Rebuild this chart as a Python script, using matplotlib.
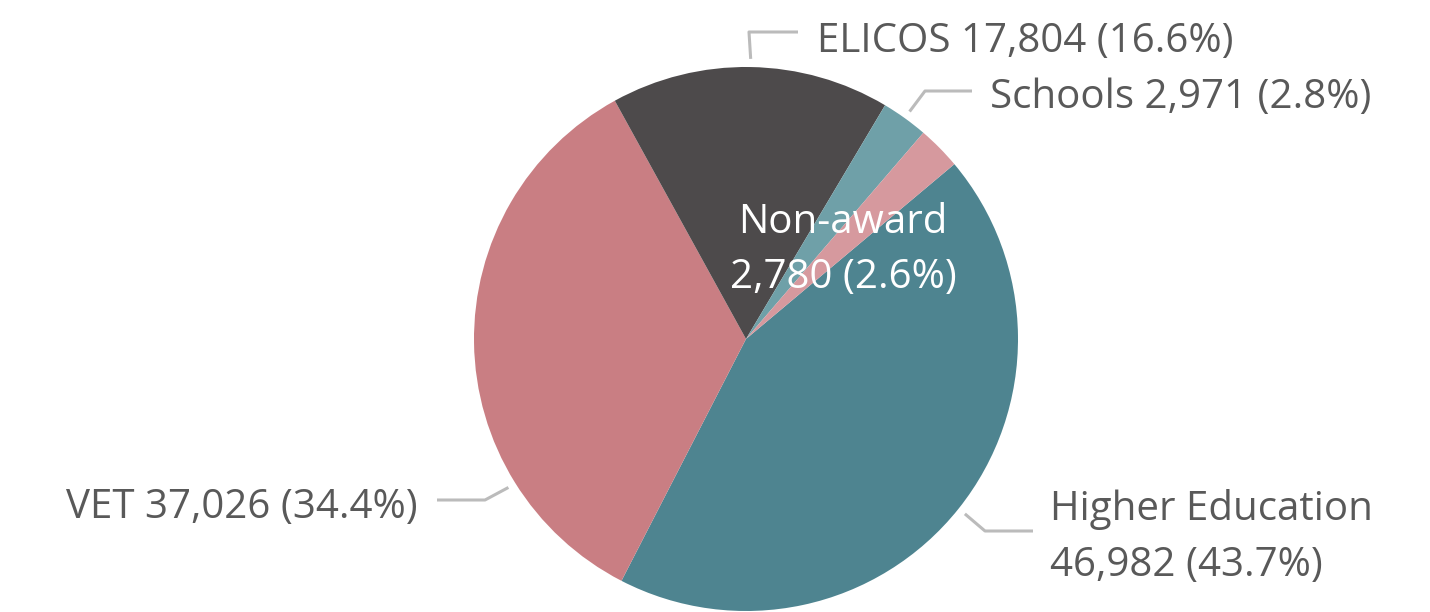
import numpy as np
import matplotlib
matplotlib.use("Agg")
import matplotlib.pyplot as plt

# datos
categorias = ["Higher Education", "VET", "ELICOS", "Schools", "Non-award"]
valores = [46982, 37026, 17804, 2971, 2780]
porcentajes = [43.7, 34.4, 16.6, 2.8, 2.6]
colores = ["#4E8490", "#C97E83", "#4D4A4B", "#6FA0A8", "#D6999E"]

W, H = 1430, 612
CX, CY, R = 746, H - 339, 272
GRIS_TEXTO = "#595959"
GRIS_LINEA = "#BBBBBB"

plt.rcParams["font.family"] = ["Open Sans", "DejaVu Sans"]

fig = plt.figure(figsize=(W / 100, H / 100), dpi=100)
ax = fig.add_axes([0, 0, 1, 1])
cunas, _ = ax.pie(valores, colors=colores, startangle=40, counterclock=False,
                  center=(CX, CY), radius=R, frame=True,
                  wedgeprops={"linewidth": 0, "antialiased": True})
ax.set_xlim(0, W)
ax.set_ylim(0, H)
ax.set_aspect("auto")
ax.axis("off")


def etiqueta(i):
    return f"{valores[i]:,} ({porcentajes[i]}%)"


# layout de etiquetas: angulo de inicio (None = mitad de la cuña), codo, fin, texto
layout = {
    "ELICOS": dict(ang=None, codo=(749, 32), fin=(798, 32), txt=(817, 52), ha="left"),
    "Schools": dict(ang=None, codo=(925, 91), fin=(972, 91), txt=(990, 108), ha="left"),
    "VET": dict(ang=212, codo=(485, 500), fin=(437, 500), txt=(418, 518), ha="right"),
    "Higher Education": dict(ang=None, codo=(985, 531), fin=(1033, 531), txt=(1050, 520), ha="left"),
}

fs = 29
for i, nombre in enumerate(categorias):
    if nombre not in layout:
        continue
    cfg = layout[nombre]
    w = cunas[i]
    ang = cfg["ang"] if cfg["ang"] is not None else (w.theta1 + w.theta2) / 2
    x0 = CX + R * 1.03 * np.cos(np.radians(ang))
    y0 = CY + R * 1.03 * np.sin(np.radians(ang))
    xs = [x0, cfg["codo"][0], cfg["fin"][0]]
    ys = [y0, H - cfg["codo"][1], H - cfg["fin"][1]]
    ax.plot(xs, ys, color=GRIS_LINEA, lw=2.2, solid_capstyle="butt")
    tx, ty = cfg["txt"]
    if nombre == "Higher Education":
        ax.text(tx, H - ty, nombre, ha="left", va="baseline", fontsize=fs, color=GRIS_TEXTO)
        ax.text(tx, H - ty - 56, etiqueta(i), ha="left", va="baseline", fontsize=fs, color=GRIS_TEXTO)
    else:
        ax.text(tx, H - ty, f"{nombre} {etiqueta(i)}", ha=cfg["ha"], va="baseline",
                fontsize=fs, color=GRIS_TEXTO)

# Non-award dentro del pastel
i = categorias.index("Non-award")
ax.text(843, H - 233, categorias[i], ha="center", va="baseline", fontsize=fs, color="white")
ax.text(843, H - 288, etiqueta(i), ha="center", va="baseline", fontsize=fs, color="white")

fig.savefig("out.png", dpi=100)
plt.close(fig)
